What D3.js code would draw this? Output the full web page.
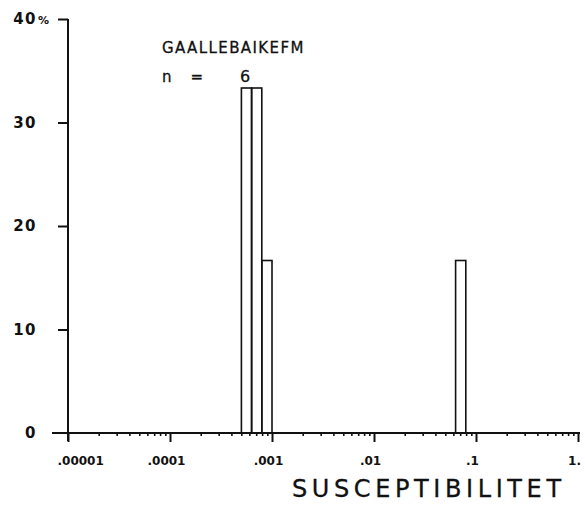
<!DOCTYPE html>
<html>
<head>
<meta charset="utf-8">
<script src="https://cdn.jsdelivr.net/npm/d3@7"></script>
<style>
  body { margin: 0; background: #fff; }
  svg { display: block; }
  .lbl { font-family: "DejaVu Sans", sans-serif; fill: #111; }
</style>
</head>
<body>
<svg id="chart" width="585" height="511"></svg>
<script>
// Data: histogram of susceptibility, log10 bin edges (0.1 decade bins)
const binStart = [-3.3, -3.2, -3.1, -1.2];
const binEnd = [-3.2, -3.1, -3.0, -1.1];
const counts = [2, 2, 1, 1];
const nTotal = 6;

const xTickValues = [1e-5, 1e-4, 1e-3, 1e-2, 1e-1, 1];
const xTickLabels = [".00001", ".0001", ".001", ".01", ".1", "1."];
const yTickValues = [0, 10, 20, 30, 40];

const title = "GAALLEBAIKEFM";
const xTitle = "SUSCEPTIBILITET";

const svg = d3.select("#chart");

const x = d3.scaleLog().domain([1e-5, 1]).range([68, 578]);
const y = d3.scaleLinear().domain([0, 40]).range([433, 19]);

// bars
const bars = binStart.map((s, i) => ({
	lo: Math.pow(10, s),
	hi: Math.pow(10, binEnd[i]),
	pct: counts[i] / nTotal * 100
}));

svg.append("g")
	.selectAll("rect")
	.data(bars)
	.enter()
	.append("rect")
		.attr("x", d => x(d.lo))
		.attr("y", d => y(d.pct))
		.attr("width", d => x(d.hi) - x(d.lo))
		.attr("height", d => y(0) - y(d.pct))
		.attr("fill", "none")
		.attr("stroke", "#111")
		.attr("stroke-width", 1.6);

// minor ticks on x
const minors = [];
for (let e = -5; e < 0; e++) {
	for (let m = 2; m <= 9; m++) minors.push(m * Math.pow(10, e));
}
svg.append("g")
	.attr("transform", `translate(0,${y(0)})`)
	.call(d3.axisBottom(x).tickValues(minors).tickSize(3).tickSizeOuter(0).tickFormat(""))
	.call(g => g.select(".domain").remove())
	.selectAll("line").attr("stroke", "#111").attr("stroke-width", 1.6);

// major ticks on x
const xAxis = svg.append("g")
	.attr("transform", `translate(0,${y(0)})`)
	.call(d3.axisBottom(x).tickValues(xTickValues).tickSize(9).tickSizeOuter(0)
		.tickPadding(14).tickFormat((d, i) => xTickLabels[i]));
xAxis.select(".domain").remove();
xAxis.selectAll("line").attr("stroke", "#111").attr("stroke-width", 2);
xAxis.selectAll("text")
	.attr("class", "lbl")
	.style("font-size", "12px")
	.style("font-weight", "bold")
	.attr("fill", "#111")
	.attr("text-anchor", (d, i) => i === 0 ? "start" : "middle")
	.attr("dx", (d, i) => i === 0 ? -11 : -4);

// x axis line
svg.append("line")
	.attr("x1", 52).attr("x2", x(1) + 2)
	.attr("y1", y(0)).attr("y2", y(0))
	.attr("stroke", "#111").attr("stroke-width", 2);

// y axis
const yAxis = svg.append("g")
	.attr("transform", `translate(${x(1e-5)},0)`)
	.call(d3.axisLeft(y).tickValues(yTickValues).tickSize(10).tickSizeOuter(0).tickPadding(21));
yAxis.select(".domain").remove();
yAxis.selectAll("line").attr("stroke", "#111").attr("stroke-width", 2);
yAxis.selectAll("text")
	.attr("class", "lbl")
	.style("font-size", "15px")
	.style("font-weight", "bold")
	.style("letter-spacing", "1.5px")
	.attr("fill", "#111");
yAxis.selectAll(".tick").filter(d => d === 0).select("line").remove();

svg.append("line")
	.attr("x1", x(1e-5)).attr("x2", x(1e-5))
	.attr("y1", y(40)).attr("y2", y(0) + 8)
	.attr("stroke", "#111").attr("stroke-width", 2);

// percent sign after top label
svg.append("text")
	.attr("class", "lbl")
	.attr("x", 38).attr("y", y(40) + 5)
	.style("font-size", "11px")
	.style("font-weight", "bold")
	.text("%");

// titles
svg.append("text")
	.attr("class", "lbl")
	.attr("x", 162).attr("y", 53)
	.style("font-size", "15px")
	.style("letter-spacing", "1.4px")
	.style("stroke", "#111")
	.style("stroke-width", 0.3)
	.text(title);

svg.append("text")
	.attr("class", "lbl")
	.attr("x", 162).attr("y", 82)
	.style("font-size", "15px")
	.style("stroke", "#111")
	.style("stroke-width", 0.3)
	.style("white-space", "pre")
	.text("n    =");

svg.append("text")
	.attr("class", "lbl")
	.attr("x", 240).attr("y", 82)
	.style("font-size", "16px")
	.style("stroke", "#111")
	.style("stroke-width", 0.3)
	.text(nTotal);

svg.append("text")
	.attr("class", "lbl")
	.attr("x", 292).attr("y", 497)
	.style("font-size", "24px")
	.style("letter-spacing", "4.6px")
	.style("stroke", "#111")
	.style("stroke-width", 0.3)
	.text(xTitle);
</script>
</body>
</html>
